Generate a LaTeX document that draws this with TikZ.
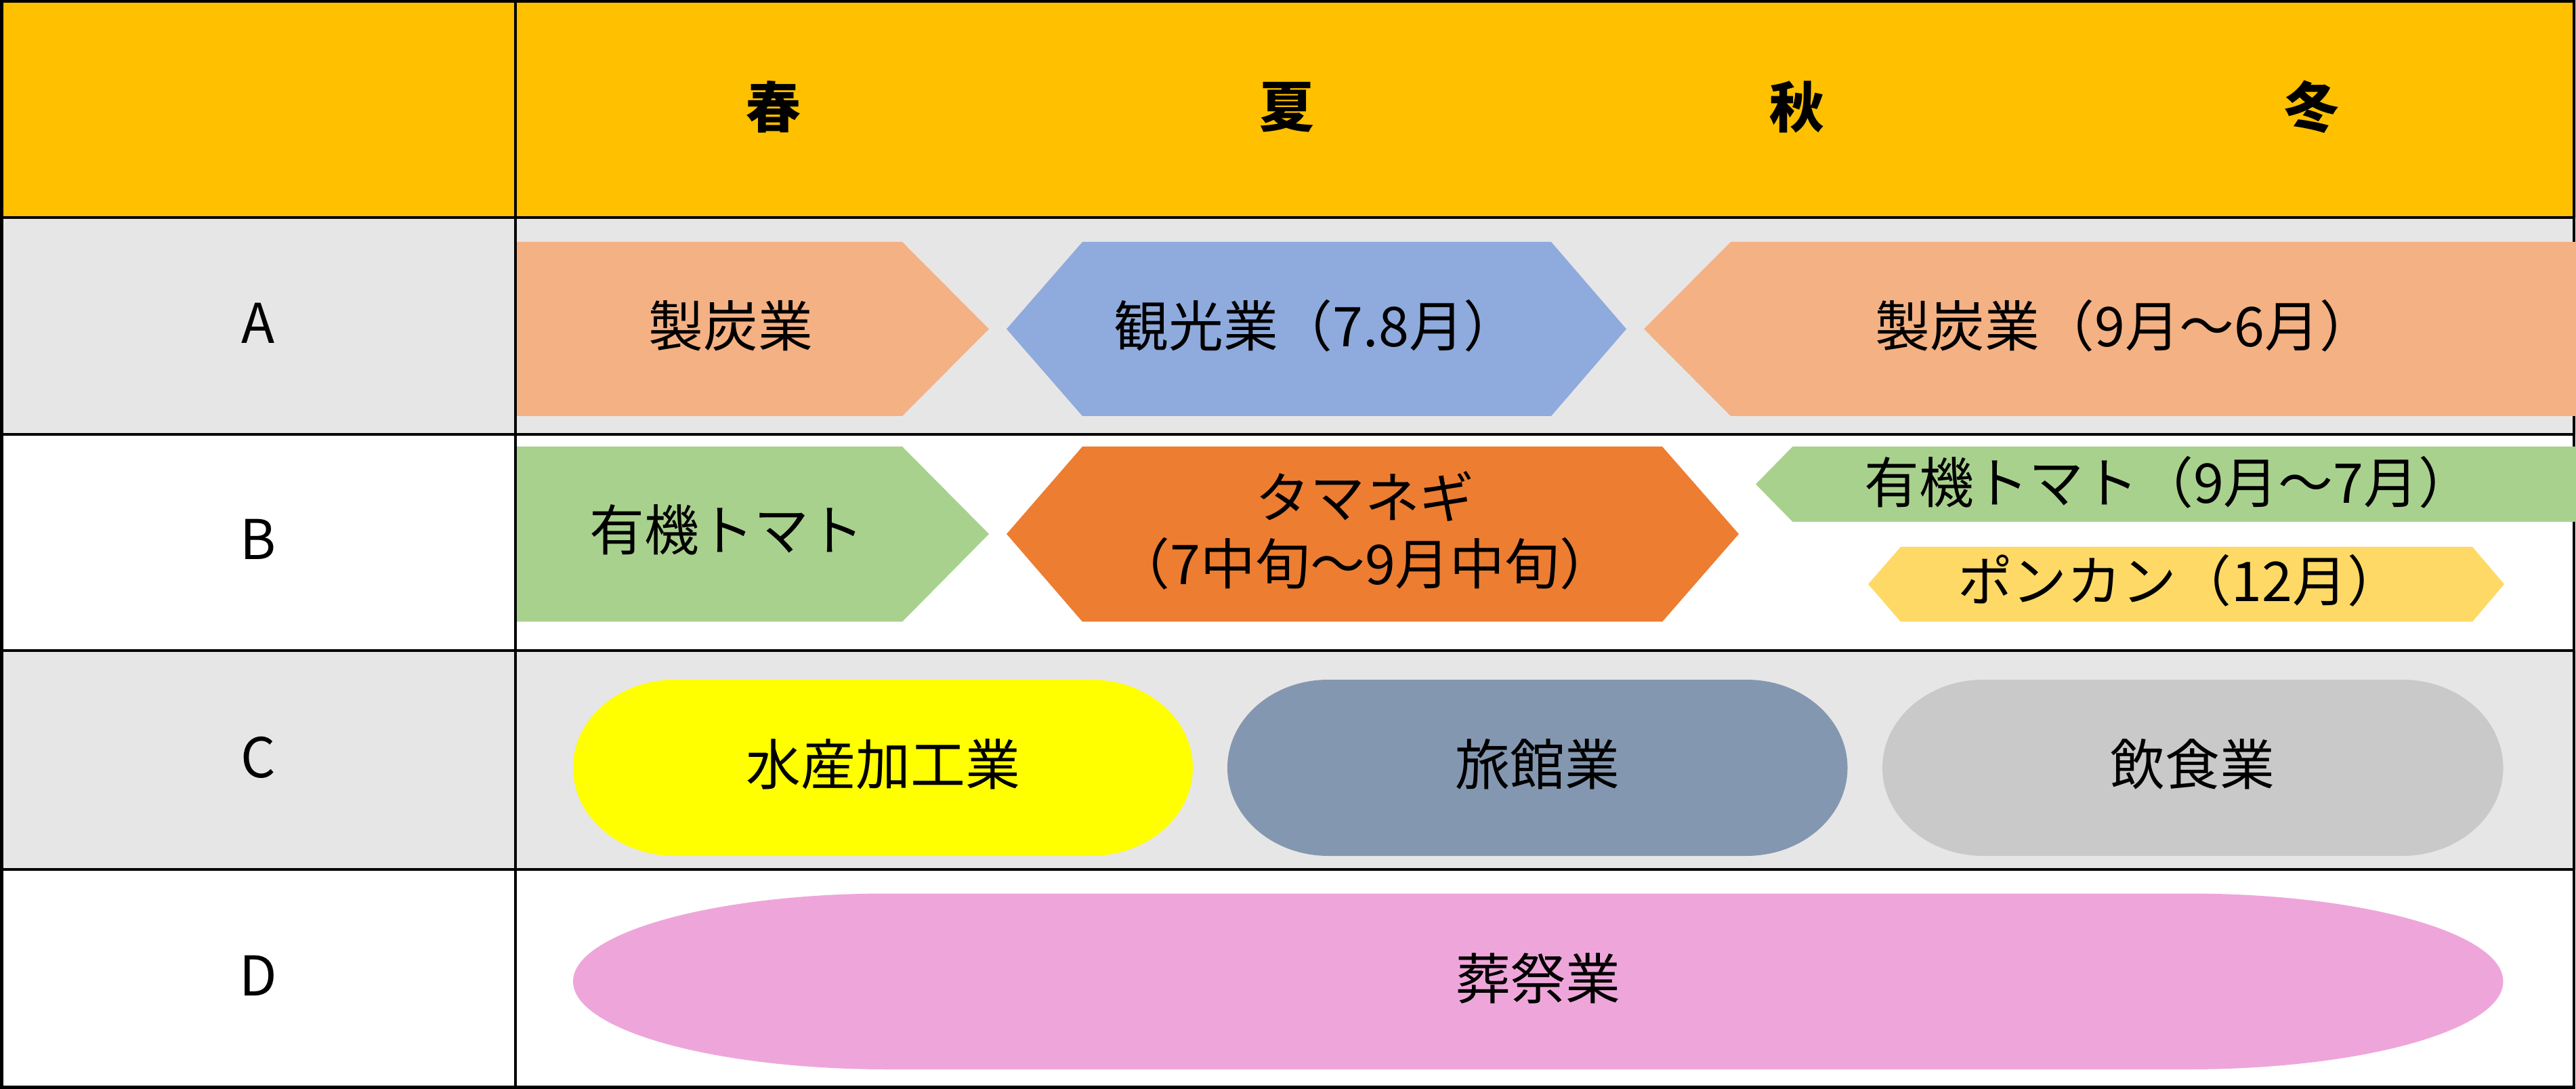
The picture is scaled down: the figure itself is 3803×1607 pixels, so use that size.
\documentclass[tikz,border=0pt]{standalone}
\usepackage{fontspec}
\setmainfont{Noto Sans CJK JP}
\definecolor{hdr}{HTML}{FFC000}
\definecolor{rowgray}{HTML}{E7E6E6}
\definecolor{charcoal}{HTML}{F4B183}
\definecolor{tourism}{HTML}{8FAADC}
\definecolor{tomato}{HTML}{A9D18E}
\definecolor{onion}{HTML}{ED7D31}
\definecolor{ponkan}{HTML}{FFD966}
\definecolor{fishery}{HTML}{FFFF00}
\definecolor{inn}{HTML}{8497B0}
\definecolor{food}{HTML}{C9C9C9}
\definecolor{funeral}{HTML}{EEA6DA}
\tikzset{
  gridline/.style={draw=black,line width=1.2pt},
  txt/.style={inner sep=0pt,font=\fontsize{23pt}{28pt}\selectfont,text=black},
  hdrtxt/.style={inner sep=0pt,font=\fontsize{23pt}{28pt}\selectfont\bfseries,text=black},
}
\begin{document}
\begin{tikzpicture}[x=0.01cm,y=-0.01cm]
\useasboundingbox (0,0) rectangle (3803,1607);
% row fills
\fill[hdr] (0,0) rectangle (3803,321);
\fill[rowgray] (0,321) rectangle (3803,641);
\fill[white] (0,641) rectangle (3803,960);
\fill[rowgray] (0,960) rectangle (3803,1283);
\fill[white] (0,1283) rectangle (3803,1607);
% grid
\draw[gridline] (2.5,2) rectangle (3800,1604.5);
\draw[gridline] (761,2) -- (761,1604.5);
\draw[gridline] (2.5,321) -- (3800,321);
\draw[gridline] (2.5,641) -- (3800,641);
\draw[gridline] (2.5,960) -- (3800,960);
\draw[gridline] (2.5,1283) -- (3800,1283);
% row A shapes
\fill[charcoal] (763,357) -- (1332,357) -- (1460,485.5) -- (1332,614) -- (763,614) -- cycle;
\fill[tourism] (1486,485.5) -- (1598,357) -- (2290,357) -- (2401,485.5) -- (2290,614) -- (1598,614) -- cycle;
\fill[charcoal] (2427,485.5) -- (2555,357) -- (3803,357) -- (3803,614) -- (2555,614) -- cycle;
% row B shapes
\fill[tomato] (763,659) -- (1332,659) -- (1460,788) -- (1332,917.5) -- (763,917.5) -- cycle;
\fill[onion] (1486,788) -- (1598,659) -- (2454,659) -- (2567,788) -- (2454,917.5) -- (1598,917.5) -- cycle;
\fill[tomato] (2592,714.5) -- (2646.5,659) -- (3803,659) -- (3803,770) -- (2646.5,770) -- cycle;
\fill[ponkan] (2758,862) -- (2806,807) -- (3650,807) -- (3697,862) -- (3650,917.5) -- (2806,917.5) -- cycle;
% row C shapes
\fill[fishery] (996,1003) arc[start angle=270,end angle=90,x radius=150,y radius=130]
  -- (1611,1263) arc[start angle=90,end angle=-90,x radius=150,y radius=130] -- cycle;
\fill[inn] (1961,1003) arc[start angle=270,end angle=90,x radius=149,y radius=130]
  -- (2578.5,1263) arc[start angle=90,end angle=-90,x radius=149,y radius=130] -- cycle;
\fill[food] (2928,1003) arc[start angle=270,end angle=90,x radius=149,y radius=130]
  -- (3546.5,1263) arc[start angle=90,end angle=-90,x radius=149,y radius=130] -- cycle;
% row D shape
\fill[funeral] (1311,1318.5) arc[start angle=270,end angle=90,x radius=465,y radius=129.75]
  -- (3230.5,1578) arc[start angle=90,end angle=-90,x radius=465,y radius=129.75] -- cycle;
% header texts
\node[hdrtxt] (spring) at (1142,158) {春};
\node[hdrtxt] (summer) at (1900,158) {夏};
\node[hdrtxt] (autumn) at (2653,158) {秋};
\node[hdrtxt] (winter) at (3413,158) {冬};
% row labels
\node[txt] (la) at (381,477) {A};
\node[txt] (lb) at (381,796) {B};
\node[txt] (lc) at (381,1118) {C};
\node[txt] (ld) at (381,1440) {D};
% shape texts
\node[txt] (a1) at (1079,481) {製炭業};
\node[txt] (a2) at (1943,481) {観光業（7.8月）};
\node[txt] (a3) at (3137,481) {製炭業（9月～6月）};
\node[txt] (b1) at (1073,782) {有機トマト};
\node[txt,align=center] (b2) at (2015,783) {タマネギ\\（7中旬～9月中旬）};
\node[txt] (b3) at (3202,712) {有機トマト（9月～7月）};
\node[txt] (b4) at (3218,857) {ポンカン（12月）};
\node[txt] (c1) at (1304,1128) {水産加工業};
\node[txt] (c2) at (2270,1128) {旅館業};
\node[txt] (c3) at (3237,1128) {飲食業};
\node[txt] (d1) at (2271,1444) {葬祭業};
\end{tikzpicture}
\end{document}
